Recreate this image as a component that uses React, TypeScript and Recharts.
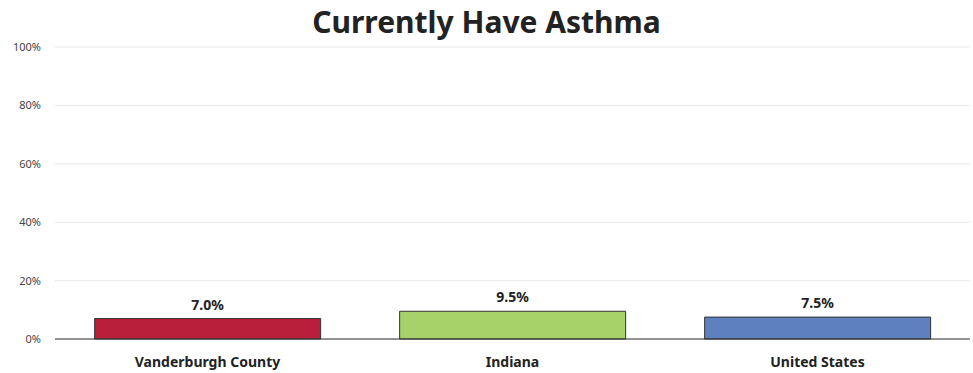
import React from "react";
import { BarChart, Bar, XAxis, YAxis, CartesianGrid, Cell, LabelList } from "recharts";

const categories = ["Vanderburgh County", "Indiana", "United States"];
const values = [7.0, 9.5, 7.5];
const colors = ["#B91F3A", "#A6D26A", "#5E80BF"];
const yTicks = [0, 20, 40, 60, 80, 100];
const title = "Currently Have Asthma";

const data = categories.map((name, i) => ({ name, value: values[i] }));

const FONT = "'Noto Sans', 'Open Sans', sans-serif";

export default function App() {
  return (
    <div style={{ position: "absolute", left: 0, top: 0, width: 973, height: 373, background: "#fff", fontFamily: FONT }}>
      <div
        style={{
          position: "absolute",
          left: 0,
          top: 1,
          width: 973,
          textAlign: "center",
          fontSize: 30,
          fontWeight: 700,
          color: "#222",
          lineHeight: "42px",
        }}
      >
        {title}
      </div>
      <BarChart
        width={973}
        height={373}
        data={data}
        margin={{ top: 47, right: 3, bottom: 0, left: 0 }}
        barCategoryGap="13%"
      >
        <CartesianGrid horizontal={true} vertical={false} stroke="#e8e8e8" />
        <XAxis
          dataKey="name"
          axisLine={{ stroke: "#333" }}
          tickLine={false}
          height={34}
          tickMargin={12}
          tick={{ fontSize: 14, fontWeight: 700, fill: "#222", fontFamily: FONT }}
        />
        <YAxis
          domain={[0, 100]}
          ticks={yTicks}
          tickFormatter={(v: number) => `${v}%`}
          axisLine={false}
          tickLine={false}
          width={55}
          tickMargin={8}
          tick={{ fontSize: 11, fill: "#444", fontFamily: FONT }}
        />
        <Bar dataKey="value" stroke="#333" strokeWidth={1} isAnimationActive={false}>
          {data.map((d, i) => (
            <Cell key={d.name} fill={colors[i]} />
          ))}
          <LabelList
            dataKey="value"
            position="top"
            offset={9}
            formatter={(v: number) => `${v.toFixed(1)}%`}
            style={{ fontSize: 14, fontWeight: 700, fill: "#222", fontFamily: FONT }}
          />
        </Bar>
      </BarChart>
    </div>
  );
}
